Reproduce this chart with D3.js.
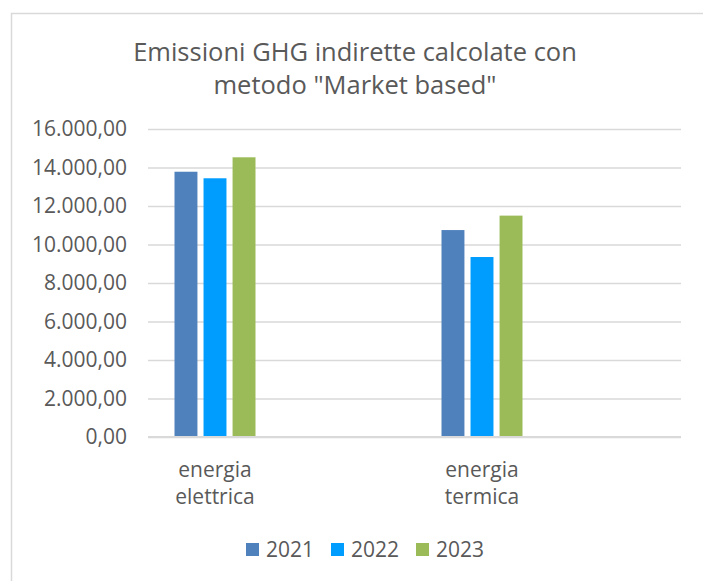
<!DOCTYPE html>
<html>
<head>
<meta charset="utf-8">
<script src="https://cdn.jsdelivr.net/npm/d3@7"></script>
<style>
  body { margin: 0; background: #fff; }
  svg { display: block; }
</style>
</head>
<body>
<script>
// data
var categories = [["energia", "elettrica"], ["energia", "termica"]];
var years = ["2021", "2022", "2023"];
var values2021 = [13780, 10750];
var values2022 = [13440, 9350];
var values2023 = [14530, 11500];
var yTicks = [0, 2000, 4000, 6000, 8000, 10000, 12000, 14000, 16000];
var titleLines = ["Emissioni GHG indirette calcolate con", "metodo \"Market based\""];

var series = [values2021, values2022, values2023];
var colors = ["#4f81bd", "#009dff", "#9bbb59"];

var w = 703;
var h = 581;
var font = "'Open Sans', sans-serif";

var it = d3.formatLocale({decimal: ",", thousands: ".", grouping: [3], currency: ["", "€"]});
var fmt = it.format(",.2f");

var svg = d3.select("body")
            .append("svg")
            .attr("width", w)
            .attr("height", h);

// chart border (only left and top visible in the crop)
svg.append("rect")
   .attr("x", 11.5)
   .attr("y", 13.5)
   .attr("width", 720)
   .attr("height", 620)
   .attr("fill", "none")
   .attr("stroke", "#d9d9d9")
   .attr("stroke-width", 1.5);

// title
svg.selectAll(".title")
   .data(titleLines)
   .enter()
   .append("text")
   .attr("class", "title")
   .attr("x", 355)
   .attr("y", function(d, i) { return 61 + i * 33; })
   .attr("text-anchor", "middle")
   .attr("font-family", font)
   .attr("font-size", "25.5px")
   .attr("fill", "#595959")
   .text(function(d) { return d; });

var gridLeft = 148, gridRight = 681;

var y = d3.scaleLinear()
          .domain([0, 16000])
          .range([437, 129]);

var x0 = d3.scaleBand()
           .domain(d3.range(categories.length))
           .range([81.5, 615.5]);

var x1 = d3.scaleBand()
           .domain(years)
           .range([-40.5, 40.5])
           .paddingInner(0.21);

// y axis with gridlines
var yAxis = svg.append("g")
               .attr("transform", "translate(" + gridLeft + ",0)")
               .call(d3.axisLeft(y)
                       .tickValues(yTicks)
                       .tickFormat(fmt)
                       .tickSize(-(gridRight - gridLeft))
                       .tickPadding(21));
yAxis.select(".domain").remove();
yAxis.selectAll("line")
     .attr("stroke", "#d9d9d9")
     .attr("stroke-width", 1.5);
yAxis.selectAll("text")
     .attr("font-family", font)
     .attr("font-size", "21px")
     .attr("fill", "#595959");

// bars
series.forEach(function(vals, s) {
    svg.append("g")
       .selectAll("rect")
       .data(vals)
       .enter()
       .append("rect")
       .attr("x", function(d, i) { return x0(i) + x0.bandwidth() / 2 + x1(years[s]); })
       .attr("y", function(d) { return y(d); })
       .attr("width", x1.bandwidth())
       .attr("height", function(d) { return y(0) - y(d); })
       .attr("fill", colors[s]);
});

// baseline
svg.append("line")
   .attr("x1", gridLeft)
   .attr("x2", gridRight)
   .attr("y1", y(0))
   .attr("y2", y(0))
   .attr("stroke", "#d9d9d9")
   .attr("stroke-width", 2);

// category labels
var catText = svg.selectAll(".cat")
   .data(categories)
   .enter()
   .append("text")
   .attr("class", "cat")
   .attr("text-anchor", "middle")
   .attr("font-family", font)
   .attr("font-size", "21px")
   .attr("fill", "#595959");
catText.each(function(d, i) {
    var t = d3.select(this);
    d.forEach(function(line, k) {
        t.append("tspan")
         .attr("x", x0(i) + x0.bandwidth() / 2)
         .attr("y", 477 + k * 27)
         .text(line);
    });
});

// legend
var legend = svg.selectAll(".leg")
   .data(years)
   .enter()
   .append("g")
   .attr("class", "leg")
   .attr("transform", function(d, i) { return "translate(" + (246 + i * 85) + ",543)"; });
legend.append("rect")
      .attr("width", 13)
      .attr("height", 13)
      .attr("fill", function(d, i) { return colors[i]; });
legend.append("text")
      .attr("x", 20)
      .attr("y", 14)
      .attr("font-family", font)
      .attr("font-size", "21px")
      .attr("fill", "#595959")
      .text(function(d) { return d; });
</script>
</body>
</html>
